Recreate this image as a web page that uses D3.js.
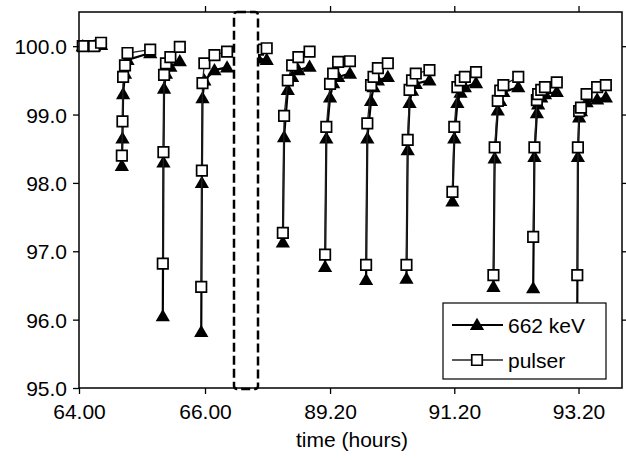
<!DOCTYPE html>
<html>
<head>
<meta charset="utf-8">
<script src="https://cdn.jsdelivr.net/npm/d3@7"></script>
<style>
    body { margin: 0; background: #fff; }
    text { font-family: "Liberation Sans", Arial, sans-serif; fill: #000; }
</style>
</head>
<body>
<svg id="chart" width="626" height="460"></svg>
<script>
// one inner array per irradiation cycle (time in hours)
const cycleTimes = [
    [64.06, 64.24, 64.35],
    [64.68, 64.69, 64.70, 64.73, 64.77, 65.13],
    [65.33, 65.34, 65.35, 65.38, 65.45, 65.60],
    [65.94, 65.95, 65.96, 65.99, 66.15, 66.35],
    [88.04, 88.18],
    [88.44, 88.46, 88.52, 88.59, 88.69, 88.87],
    [89.12, 89.14, 89.20, 89.25, 89.33, 89.52],
    [89.78, 89.80, 89.86, 89.90, 89.97, 90.13],
    [90.43, 90.45, 90.48, 90.52, 90.58, 90.80],
    [91.17, 91.20, 91.25, 91.30, 91.37, 91.55],
    [91.83, 91.85, 91.90, 91.94, 91.99, 92.23],
    [92.47, 92.49, 92.53, 92.55, 92.60, 92.66, 92.85],
    [93.18, 93.19, 93.21, 93.24, 93.33, 93.50, 93.64]
];
const keV662 = [
    [100.0, 100.0, 100.02],
    [98.25, 98.65, 99.30, 99.60, 99.80, 99.90],
    [96.05, 98.30, 99.38, 99.60, 99.70, 99.78],
    [95.82, 98.00, 99.24, 99.50, 99.65, 99.69],
    [99.82, 99.80],
    [97.13, 98.67, 99.36, 99.55, 99.65, 99.70],
    [96.77, 98.65, 99.25, 99.46, 99.55, 99.60],
    [96.58, 98.65, 99.20, 99.40, 99.50, 99.55],
    [96.60, 98.48, 99.17, 99.35, 99.45, 99.50],
    [97.73, 98.65, 99.17, 99.32, 99.40, 99.46],
    [96.48, 98.36, 99.06, 99.20, 99.33, 99.40],
    [96.46, 98.38, 99.02, 99.15, 99.25, 99.30, 99.33],
    [96.15, 98.38, 98.96, 99.05, 99.18, 99.22, 99.25]
];
const pulser = [
    [100.0, 100.0, 100.05],
    [98.40, 98.90, 99.55, 99.72, 99.90, 99.95],
    [96.82, 98.45, 99.58, 99.75, 99.84, 99.99],
    [96.48, 98.18, 99.46, 99.75, 99.87, 99.92],
    [99.95, 99.97],
    [97.27, 98.98, 99.50, 99.72, 99.84, 99.92],
    [96.95, 98.82, 99.45, 99.60, 99.77, 99.78],
    [96.80, 98.87, 99.43, 99.55, 99.68, 99.75],
    [96.80, 98.63, 99.36, 99.50, 99.60, 99.65],
    [97.87, 98.82, 99.40, 99.50, 99.55, 99.62],
    [96.65, 98.52, 99.20, 99.35, 99.43, 99.55],
    [97.21, 98.52, 99.21, 99.30, 99.36, 99.40, 99.47],
    [96.65, 98.52, 99.05, 99.10, 99.30, 99.40, 99.43]
];
const xTicks = [64, 66, 89.2, 91.2, 93.2];
const yTicks = [95, 96, 97, 98, 99, 100];
const seriesNames = ['662 keV', 'pulser'];

const plotLeft = 79, plotRight = 622, plotTop = 12, plotBottom = 388;
const breakFrom = 66.46, breakTo = 88.04;

let svg = d3.select('#chart');

// broken time axis: two linear pieces joined across the dashed box
let x = d3.scaleLinear()
        .domain([64, breakFrom, breakTo, 93.9])
        .range([plotLeft, 234, 258, plotRight]);
let y = d3.scaleLinear()
        .domain([95, 100.5])
        .range([plotBottom, plotTop]);

let line = d3.line()
        .x(d => x(d[0]))
        .y(d => y(d[1]));

let triangle = d3.symbol().type(d3.symbolTriangle).size(88);
let square = d3.symbol().type(d3.symbolSquare).size(110);

function cyclePoints(values) {
    return cycleTimes.map((ts, i) => ts.map((t, j) => [t, values[i][j]]));
}

let keVCycles = cyclePoints(keV662);
let pulserCycles = cyclePoints(pulser);

let plot = svg.append('g');

plot.selectAll('path.keV')
        .data(keVCycles)
        .enter()
        .append('path')
        .attr('class', 'keV')
        .attr('d', line)
        .attr('fill', 'none')
        .attr('stroke', '#000')
        .attr('stroke-width', 2.2);

plot.selectAll('path.keV-pt')
        .data(keVCycles.flat())
        .enter()
        .append('path')
        .attr('class', 'keV-pt')
        .attr('d', triangle)
        .attr('transform', d => `translate(${x(d[0])},${y(d[1]) + 1})`)
        .attr('fill', '#000');

plot.selectAll('path.pulser')
        .data(pulserCycles)
        .enter()
        .append('path')
        .attr('class', 'pulser')
        .attr('d', line)
        .attr('fill', 'none')
        .attr('stroke', '#222')
        .attr('stroke-width', 1.3);

plot.selectAll('path.pulser-pt')
        .data(pulserCycles.flat())
        .enter()
        .append('path')
        .attr('class', 'pulser-pt')
        .attr('d', square)
        .attr('transform', d => `translate(${x(d[0])},${y(d[1])})`)
        .attr('fill', '#fff')
        .attr('stroke', '#000')
        .attr('stroke-width', 1.7);

// dashed box marking the time break
svg.append('rect')
        .attr('x', x(breakFrom))
        .attr('y', plotTop)
        .attr('width', x(breakTo) - x(breakFrom))
        .attr('height', plotBottom - plotTop + 1)
        .attr('rx', 3)
        .attr('fill', '#fff')
        .attr('stroke', '#000')
        .attr('stroke-width', 2.5)
        .attr('stroke-dasharray', '9,4');

// axes on all four sides
let fmtX = d3.format('.2f');
let fmtY = d3.format('.1f');

let xAxis = svg.append('g')
        .attr('transform', `translate(0,${plotBottom})`)
        .call(d3.axisBottom(x).tickValues(xTicks).tickFormat(fmtX).tickSize(6).tickPadding(10));
let xTop = svg.append('g')
        .attr('transform', `translate(0,${plotTop})`)
        .call(d3.axisTop(x).tickValues(xTicks.slice(1)).tickFormat('').tickSize(6));
let yAxis = svg.append('g')
        .attr('transform', `translate(${plotLeft},0)`)
        .call(d3.axisLeft(y).tickValues(yTicks).tickFormat(fmtY).tickSize(6).tickPadding(6));
let yRight = svg.append('g')
        .attr('transform', `translate(${plotRight},0)`)
        .call(d3.axisRight(y).tickValues(yTicks.slice(1)).tickFormat('').tickSize(6));

[xAxis, xTop, yAxis, yRight].forEach(g => {
    g.select('.domain').attr('d', null);
    g.selectAll('line').attr('stroke', '#000').attr('stroke-width', 1.3);
    g.selectAll('text').attr('font-size', 21).attr('fill', '#000')
            .attr('font-family', '"Liberation Sans", Arial, sans-serif');
});
yAxis.selectAll('text').attr('dy', '0.36em');

svg.append('rect')
        .attr('x', plotLeft)
        .attr('y', plotTop)
        .attr('width', plotRight - plotLeft)
        .attr('height', plotBottom - plotTop)
        .attr('fill', 'none')
        .attr('stroke', '#000')
        .attr('stroke-width', 1.5);

svg.append('text')
        .attr('x', 352)
        .attr('y', 447)
        .attr('text-anchor', 'middle')
        .attr('font-size', 21)
        .text('time (hours)');

// legend
let legend = svg.append('g').attr('transform', 'translate(443,303)');
legend.append('rect')
        .attr('width', 163)
        .attr('height', 76)
        .attr('fill', '#fff')
        .attr('stroke', '#000')
        .attr('stroke-width', 1.2);

seriesNames.forEach((name, i) => {
    let ly = 22 + i * 35;
    let row = legend.append('g');
    row.append('line')
            .attr('x1', 9).attr('x2', 60)
            .attr('y1', ly).attr('y2', ly)
            .attr('stroke', i === 0 ? '#000' : '#222')
            .attr('stroke-width', i === 0 ? 2.2 : 1.3);
    row.append('path')
            .attr('d', i === 0 ? triangle : square)
            .attr('transform', `translate(34,${ly + (i === 0 ? 1 : 0)})`)
            .attr('fill', i === 0 ? '#000' : '#fff')
            .attr('stroke', i === 0 ? 'none' : '#000')
            .attr('stroke-width', 1.7);
    row.append('text')
            .attr('x', 65)
            .attr('y', ly + 8)
            .attr('font-size', 21)
            .text(name);
});
</script>
</body>
</html>
